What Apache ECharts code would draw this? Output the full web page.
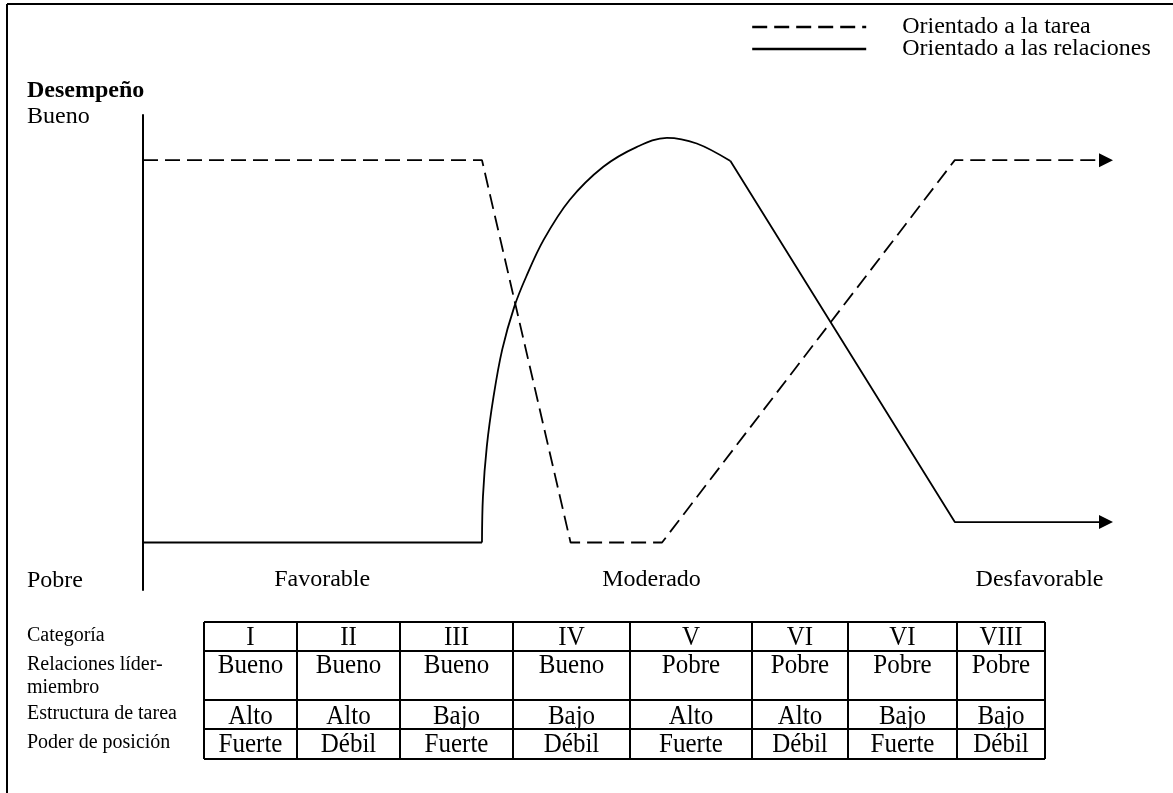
<!DOCTYPE html>
<html>
<head>
<meta charset="utf-8">
<title>Desempeño según la situación</title>
<script src="https://cdn.jsdelivr.net/npm/echarts@6/dist/echarts.min.js"></script>
<style>
  html, body { margin: 0; padding: 0; background: #fff; }
  #chart { width: 1173px; height: 793px; }
</style>
</head>
<body>
<div id="chart"></div>
<script>
// datos (x: 0-100 a lo largo del eje, y: 0 pobre - 100 bueno)
var tareaPts = [[0, 90.5], [35.2, 90.5], [44.4, 10], [53.9, 10], [84.3, 90.5], [100, 90.5]];
var relIni = [[0, 10], [35.2, 10]];
var relArco = [[35.2, 10], [35.3, 19.6], [35.7, 30.2], [36.4, 40.7], [37.3, 50.6], [38.55, 59.6],
	[39.8, 66.0], [41.6, 73.7], [44.3, 82.1], [47.8, 89.1], [51.3, 93.3], [54.4, 95.2],
	[57.5, 94.0], [61.0, 90.3]];
var relFin = [[61.0, 90.3], [84.3, 14.3], [100, 14.3]];

var serieNombres = ['Orientado a la tarea', 'Orientado a las relaciones'];
var zonas = ['Favorable', 'Moderado', 'Desfavorable'];
var zonasX = [18.6, 52.8, 93.1];
var nivel = ['Pobre', 'Bueno'];
var nivelY = [2, 99.6];

// tabla de categorías
var filaTitulos = ['Categoría', 'Relaciones líder-\nmiembro', 'Estructura de tarea', 'Poder de posición'];
var categorias = ['I', 'II', 'III', 'IV', 'V', 'VI', 'VI', 'VIII'];
var relaciones = ['Bueno', 'Bueno', 'Bueno', 'Bueno', 'Pobre', 'Pobre', 'Pobre', 'Pobre'];
var estructura = ['Alto', 'Alto', 'Bajo', 'Bajo', 'Alto', 'Alto', 'Bajo', 'Bajo'];
var poder = ['Fuerte', 'Débil', 'Fuerte', 'Débil', 'Fuerte', 'Débil', 'Fuerte', 'Débil'];

// posiciones de la tabla (px)
var colBordes = [204, 297, 400, 513, 630, 752, 848, 957, 1045];
var filaBordes = [622, 651, 700, 729, 759];
var filaTextoY = [638, 666, 717, 745];
var tituloY = [635, 664, 713, 742];

var fuente = "'Liberation Serif', 'Times New Roman', serif";
var myChart = echarts.init(document.getElementById('chart'));

function flecha(p) {
	return { value: p, symbol: 'triangle', symbolSize: [14, 14], symbolRotate: -90 };
}

var graficos = [];
// marco
graficos.push({ type: 'line', shape: { x1: 7, y1: 4, x2: 1173, y2: 4 }, style: { stroke: '#000', lineWidth: 2 } });
graficos.push({ type: 'line', shape: { x1: 7, y1: 4, x2: 7, y2: 793 }, style: { stroke: '#000', lineWidth: 2 } });
// líneas de la tabla
colBordes.forEach(function (x) {
	graficos.push({ type: 'line', shape: { x1: x, y1: filaBordes[0], x2: x, y2: filaBordes[filaBordes.length - 1] }, style: { stroke: '#000', lineWidth: 2 } });
});
filaBordes.forEach(function (y) {
	graficos.push({ type: 'line', shape: { x1: colBordes[0], y1: y, x2: colBordes[colBordes.length - 1], y2: y }, style: { stroke: '#000', lineWidth: 2 } });
});
// títulos de fila
filaTitulos.forEach(function (t, i) {
	graficos.push({ type: 'text', left: 27, top: tituloY[i] - 11, style: { text: t, font: '20px ' + fuente, fill: '#000', lineHeight: 23 } });
});
// celdas
[categorias, relaciones, estructura, poder].forEach(function (fila, r) {
	fila.forEach(function (t, c) {
		graficos.push({
			type: 'text',
			x: (colBordes[c] + colBordes[c + 1]) / 2,
			y: filaTextoY[r],
			scaleY: 1.12,
			style: { text: t, font: '25px ' + fuente, fill: '#000', align: 'center', verticalAlign: 'middle' }
		});
	});
});

var option = {
	backgroundColor: '#fff',
	animation: false,
	title: {
		text: 'Desempeño',
		left: 22,
		top: 74,
		textStyle: { fontFamily: fuente, fontSize: 24, fontWeight: 'bold', color: '#000' }
	},
	legend: {
		orient: 'vertical',
		left: 746,
		top: 10,
		itemWidth: 114,
		itemHeight: 14,
		itemGap: -2,
		data: serieNombres,
		itemStyle: { opacity: 0 },
		lineStyle: { width: 2.4 },
		textStyle: { fontFamily: fuente, fontSize: 24, color: '#000', lineHeight: 22, padding: [0, 0, 0, 31] }
	},
	grid: { left: 143, right: 67, top: 115, bottom: 203 },
	xAxis: {
		type: 'value',
		min: 0,
		max: 100,
		axisLine: { show: false },
		axisTick: { show: false },
		splitLine: { show: false },
		axisLabel: {
			customValues: zonasX,
			formatter: function (v) { return zonas[zonasX.indexOf(v)]; },
			margin: -10,
			verticalAlign: 'middle',
			fontFamily: fuente,
			fontSize: 24,
			color: '#000'
		}
	},
	yAxis: {
		type: 'value',
		min: 0,
		max: 100,
		axisLine: { show: true, lineStyle: { color: '#000', width: 2 } },
		axisTick: { show: false },
		splitLine: { show: false },
		axisLabel: {
			customValues: nivelY,
			formatter: function (v) { return nivel[nivelY.indexOf(v)]; },
			align: 'left',
			margin: 116,
			fontFamily: fuente,
			fontSize: 24,
			color: '#000'
		}
	},
	series: [
		{
			name: serieNombres[0],
			type: 'line',
			symbol: 'none',
			showSymbol: true,
			lineStyle: { color: '#000', width: 1.8, type: [15, 7] },
			itemStyle: { color: '#000' },
			data: tareaPts.slice(0, -1).concat([flecha(tareaPts[tareaPts.length - 1])])
		},
		{
			name: serieNombres[1],
			type: 'line',
			symbol: 'none',
			lineStyle: { color: '#000', width: 1.8 },
			itemStyle: { color: '#000' },
			data: relIni
		},
		{
			name: serieNombres[1],
			type: 'line',
			symbol: 'none',
			smooth: 0.35,
			lineStyle: { color: '#000', width: 1.8 },
			itemStyle: { color: '#000' },
			data: relArco
		},
		{
			name: serieNombres[1],
			type: 'line',
			symbol: 'none',
			showSymbol: true,
			lineStyle: { color: '#000', width: 1.8 },
			itemStyle: { color: '#000' },
			data: relFin.slice(0, -1).concat([flecha(relFin[relFin.length - 1])])
		}
	],
	graphic: graficos
};

myChart.setOption(option);
</script>
</body>
</html>
